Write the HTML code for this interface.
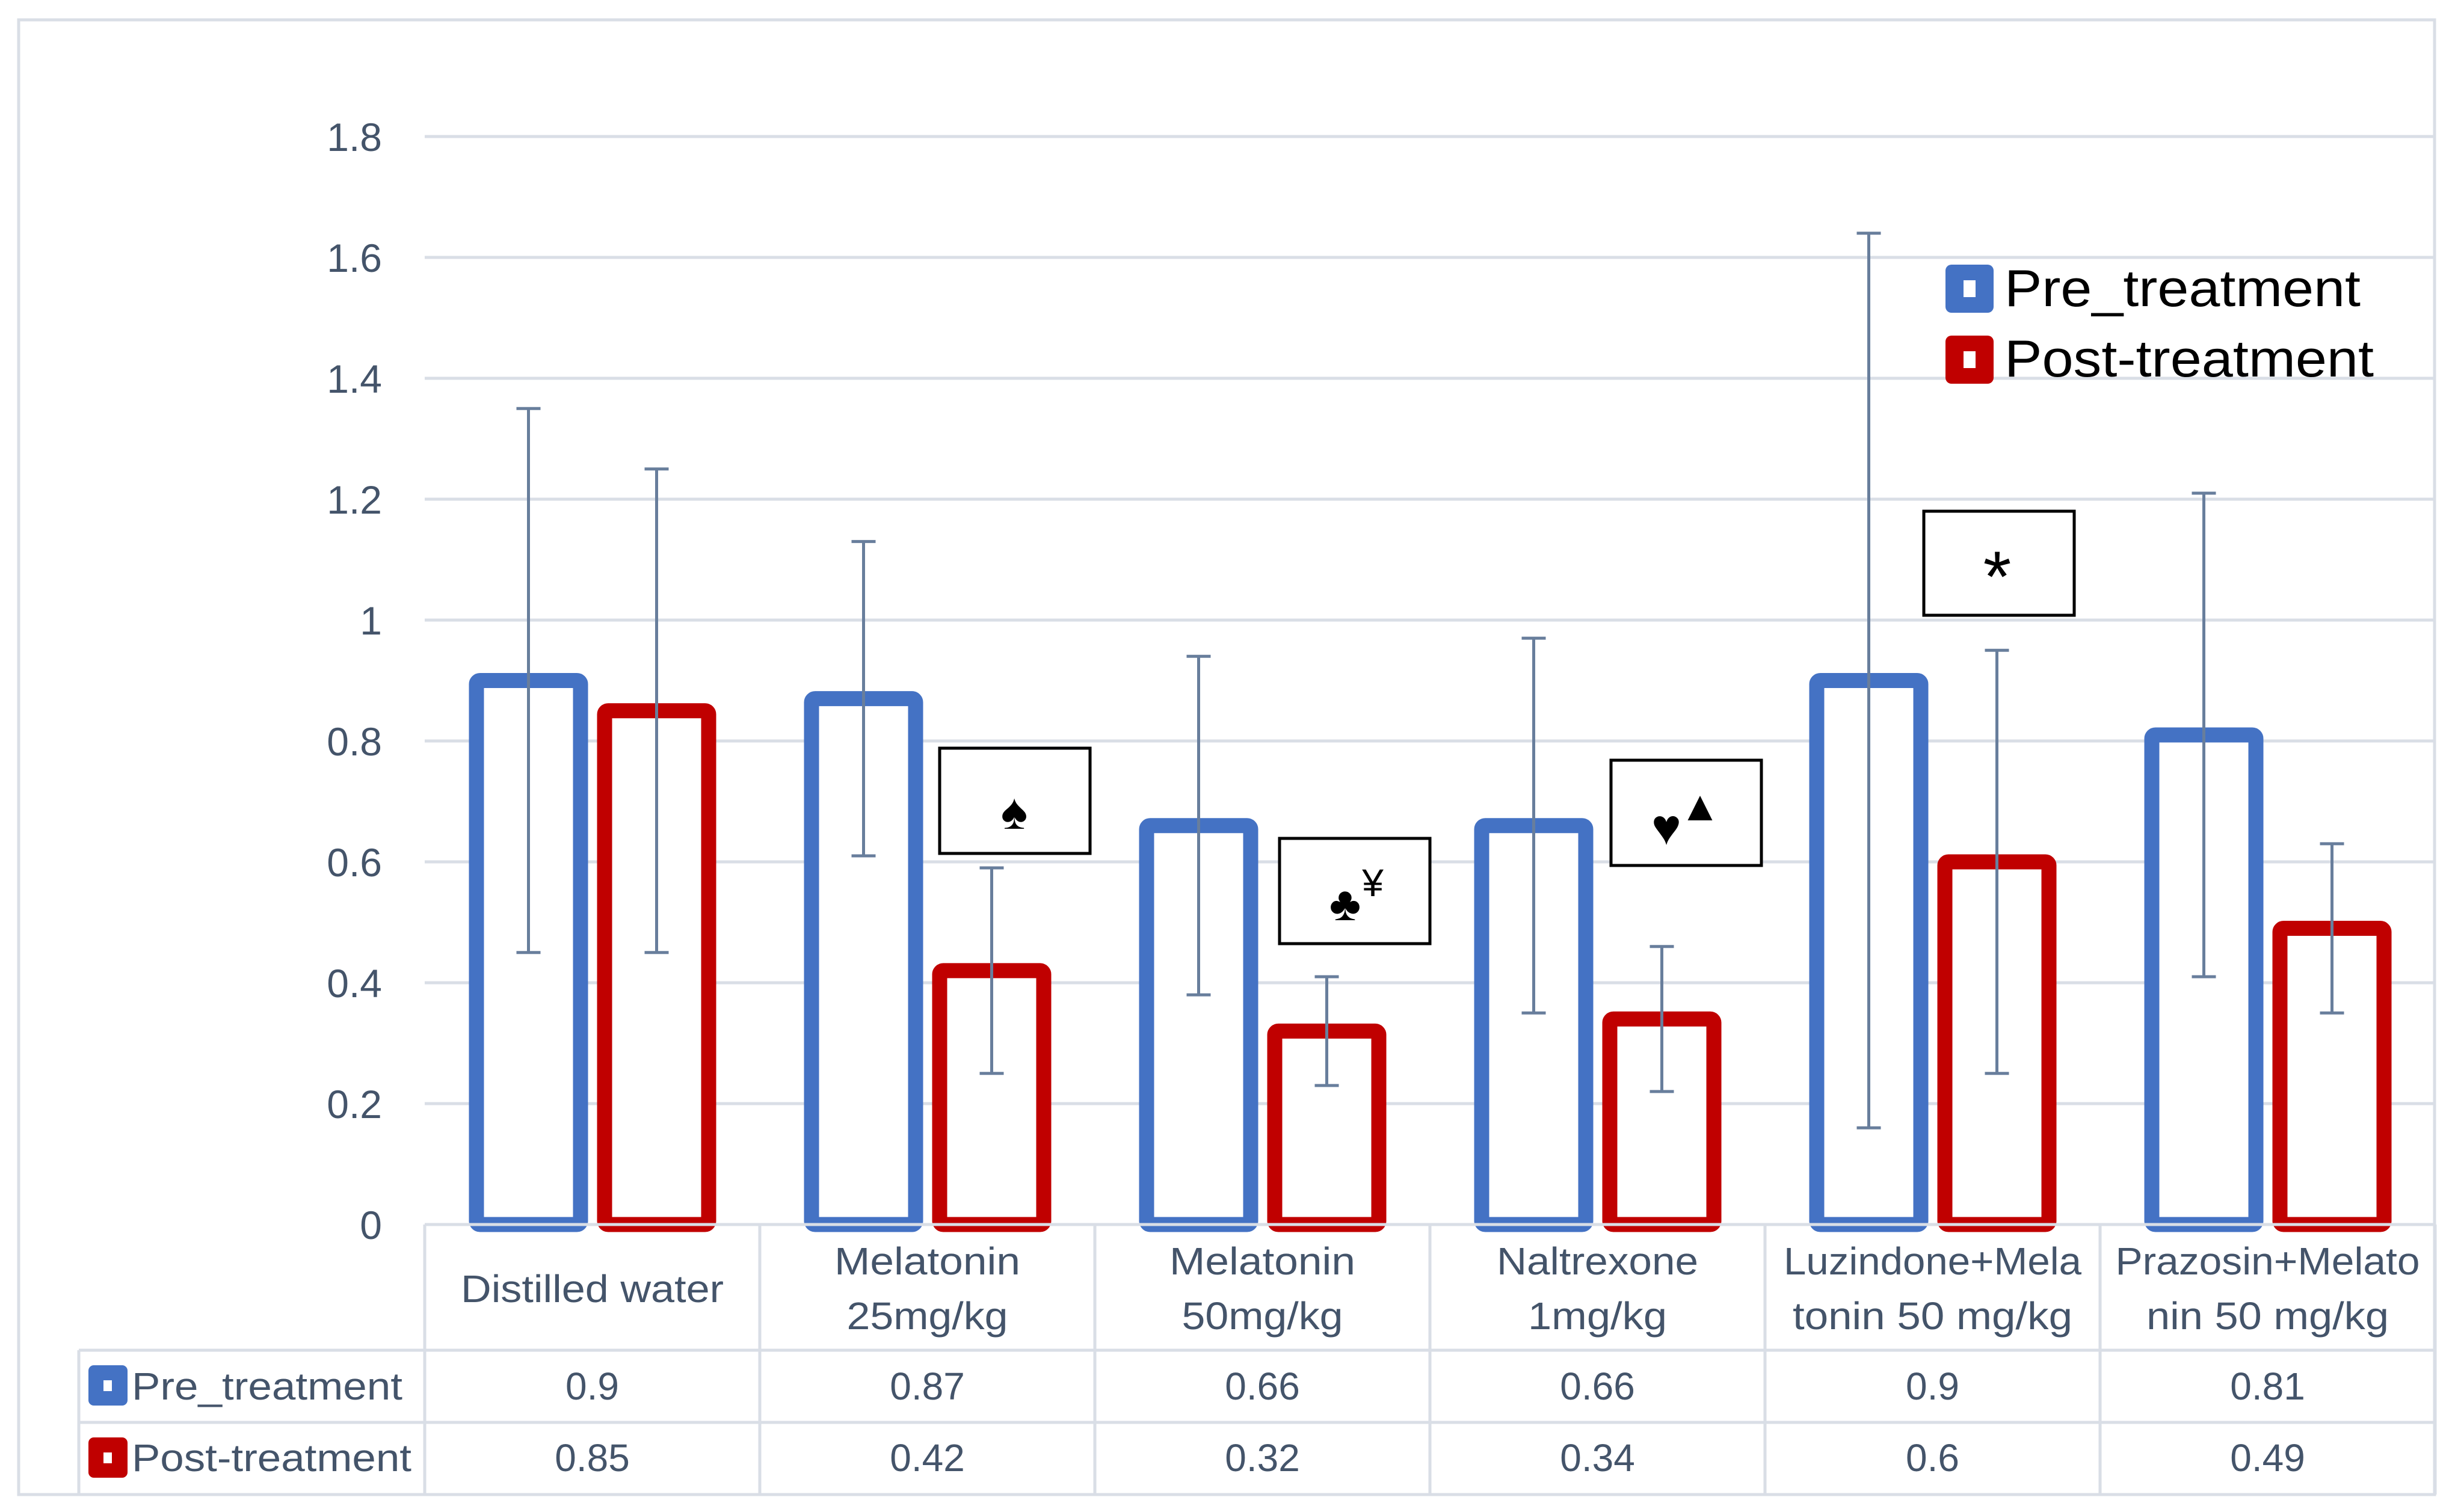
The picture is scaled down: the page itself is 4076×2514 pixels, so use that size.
<!DOCTYPE html>
<html><head><meta charset="utf-8"><style>
html,body{margin:0;padding:0;background:#fff;}
svg{display:block;}
text{font-family:"Liberation Sans",sans-serif;}
</style></head><body>
<svg id="chart" width="4076" height="2514" viewBox="0 0 4076 2514" xmlns="http://www.w3.org/2000/svg">
<rect x="0" y="0" width="4076" height="2514" fill="#fff"/>
<rect x="31" y="33" width="4016" height="2452" fill="none" stroke="#D9DEE6" stroke-width="5"/>
<g id="grid"></g>
<g id="yticks"></g>
<g id="bars"></g>
<g id="errs"></g>
<g id="table"></g>
<g>
<rect x="1562" y="1244" width="250" height="175" fill="#fff" stroke="#000" stroke-width="5"/>
<text x="1686" y="1378" font-size="84" text-anchor="middle" font-family="DejaVu Sans,sans-serif">♠</text></g>
<g>
<rect x="2127" y="1394" width="250" height="175" fill="#fff" stroke="#000" stroke-width="5"/>
<text x="2236" y="1530" font-size="80" text-anchor="middle" font-family="DejaVu Sans,sans-serif">♣</text>
<text x="2282" y="1490" font-size="64" text-anchor="middle" font-family="Liberation Serif,serif">¥</text></g>
<g>
<rect x="2678" y="1264" width="250" height="175" fill="#fff" stroke="#000" stroke-width="5"/>
<text x="2770" y="1404" font-size="84" text-anchor="middle" font-family="DejaVu Sans,sans-serif">♥</text>
<text x="2826" y="1364" font-size="70" text-anchor="middle" font-family="DejaVu Sans,sans-serif">▲</text></g>
<g>
<rect x="3198" y="850" width="250" height="173" fill="#fff" stroke="#000" stroke-width="5"/>
<text x="3320" y="1000" font-size="120" text-anchor="middle" font-family="Liberation Serif,serif">*</text></g>
<g>
<g>
<rect x="3234" y="440" width="80" height="80" rx="10" fill="#4472C4"/>
<rect x="3264" y="466" width="20" height="28" fill="#fff"/>
<text x="3332" y="509" font-size="86" fill="#000" textLength="592" lengthAdjust="spacingAndGlyphs">Pre_treatment</text></g>
<g>
<rect x="3234" y="558" width="80" height="80" rx="10" fill="#C00000"/>
<rect x="3264" y="584" width="20" height="28" fill="#fff"/>
<text x="3332" y="626" font-size="86" fill="#000" textLength="614" lengthAdjust="spacingAndGlyphs">Post-treatment</text></g>
</g>
</svg>
<script>
const categories1 = ["Distilled water","Melatonin","Melatonin","Naltrexone","Luzindone+Mela","Prazosin+Melato"];
const categories2 = ["","25mg/kg","50mg/kg","1mg/kg","tonin 50 mg/kg","nin 50 mg/kg"];
const preValues = [0.9,0.87,0.66,0.66,0.9,0.81];
const postValues = [0.85,0.42,0.32,0.34,0.6,0.49];
const preErr = [0.45,0.26,0.28,0.31,0.74,0.40];
const postErr = [0.40,0.17,0.09,0.12,0.35,0.14];
const yTicks = [0,0.2,0.4,0.6,0.8,1,1.2,1.4,1.6,1.8];
const yTickLabels = ["0","0.2","0.4","0.6","0.8","1","1.2","1.4","1.6","1.8"];

const NS="http://www.w3.org/2000/svg";
const plotL=706, plotR=4048, y0=2036, pxPerUnit=1005;
const catW=(plotR-plotL)/categories1.length;
function yScale(v){return y0-v*pxPerUnit;}
function xCenter(i){return plotL+catW*(i+0.5);}
function mk(tag,attrs,parent){const e=document.createElementNS(NS,tag);for(const k in attrs)e.setAttribute(k,attrs[k]);parent.appendChild(e);return e;}
const grid=document.getElementById('grid'),yt=document.getElementById('yticks'),bars=document.getElementById('bars'),errs=document.getElementById('errs'),table=document.getElementById('table');
yTicks.forEach((v,i)=>{
  if(i>0){const l=mk('line',{x1:plotL,x2:plotR,y1:yScale(v),y2:yScale(v),stroke:'#D9DEE6','stroke-width':5},grid);
  
  }
  const t=mk('text',{x:635,y:yScale(v)+24,'font-size':66,fill:'#44546A','text-anchor':'end'},yt);
  t.textContent=yTickLabels[i];
  
  
});
const bw=173, sw=25, off=106;
function bar(i,v,color,dx,name){
  const cx=xCenter(i)+dx, top=yScale(v);
  const r=mk('rect',{x:cx-bw/2,y:top,width:bw,height:y0-top,fill:'#fff',stroke:color,'stroke-width':sw,rx:6},bars);
  
  
}
function err(i,v,e,dx,name){
  const cx=xCenter(i)+dx, a=yScale(v+e), b=yScale(v-e);
  const g=mk('g',{stroke:'#687E9C','stroke-width':5},errs);
  
  
  mk('line',{x1:cx,x2:cx,y1:a,y2:b},g);
  mk('line',{x1:cx-20,x2:cx+20,y1:a,y2:a},g);
  mk('line',{x1:cx-20,x2:cx+20,y1:b,y2:b},g);
}
preValues.forEach((v,i)=>{bar(i,v,'#4472C4',-off,'bar-pre-'+(i+1));err(i,v,preErr[i],-off,'error-bar-pre-'+(i+1));});
postValues.forEach((v,i)=>{bar(i,v,'#C00000',off+1,'bar-post-'+(i+1));err(i,v,postErr[i],off+1,'error-bar-post-'+(i+1));});
const tl=[[plotL,2036,plotR,2036],[131,2245,plotR,2245],[131,2365,plotR,2365],[131,2485,plotR,2485],[131,2245,131,2485]];
for(let i=0;i<=categories1.length;i++){tl.push([plotL+catW*i,2036,plotL+catW*i,2485]);}
tl.forEach(l=>{const e=mk('line',{x1:l[0],y1:l[1],x2:l[2],y2:l[3],stroke:'#D9DEE6','stroke-width':5},table);
  
  });
const w1=[437,309,309,335,495,506], w2=[0,268,268,231,465,403];
categories1.forEach((c,i)=>{
  const cx=xCenter(i);
  if(!categories2[i]){
    const t=mk('text',{x:cx,y:2165,'font-size':64,fill:'#44546A','text-anchor':'middle',textLength:w1[i],lengthAdjust:'spacingAndGlyphs'},table);
    t.textContent=c;
    
    
  } else {
    const t=mk('text',{x:cx,y:2119,'font-size':64,fill:'#44546A','text-anchor':'middle',textLength:w1[i],lengthAdjust:'spacingAndGlyphs'},table);
    t.textContent=c;
    
    
    const t2=mk('text',{x:cx,y:2210,'font-size':64,fill:'#44546A','text-anchor':'middle',textLength:w2[i],lengthAdjust:'spacingAndGlyphs'},table);
    t2.textContent=categories2[i];
    
    
  }
  const a=mk('text',{x:cx,y:2327,'font-size':64,fill:'#44546A','text-anchor':'middle'},table);
  a.textContent=String(preValues[i]);
  
  
  const b=mk('text',{x:cx,y:2446,'font-size':64,fill:'#44546A','text-anchor':'middle'},table);
  b.textContent=String(postValues[i]);
  
  
});
[['Pre_treatment','#4472C4',2270,2327,450],['Post-treatment','#C00000',2390,2446,465]].forEach(r=>{
  const m=mk('rect',{x:147,y:r[2],width:65,height:67,rx:9,fill:r[1]},table);
  
  
  mk('rect',{x:172,y:r[2]+25,width:14,height:18,fill:'#fff'},table);
  const t=mk('text',{x:219,y:r[3],'font-size':64,fill:'#44546A',textLength:r[4],lengthAdjust:'spacingAndGlyphs'},table);
  t.textContent=r[0];
  
  
});
</script>
</body></html>
